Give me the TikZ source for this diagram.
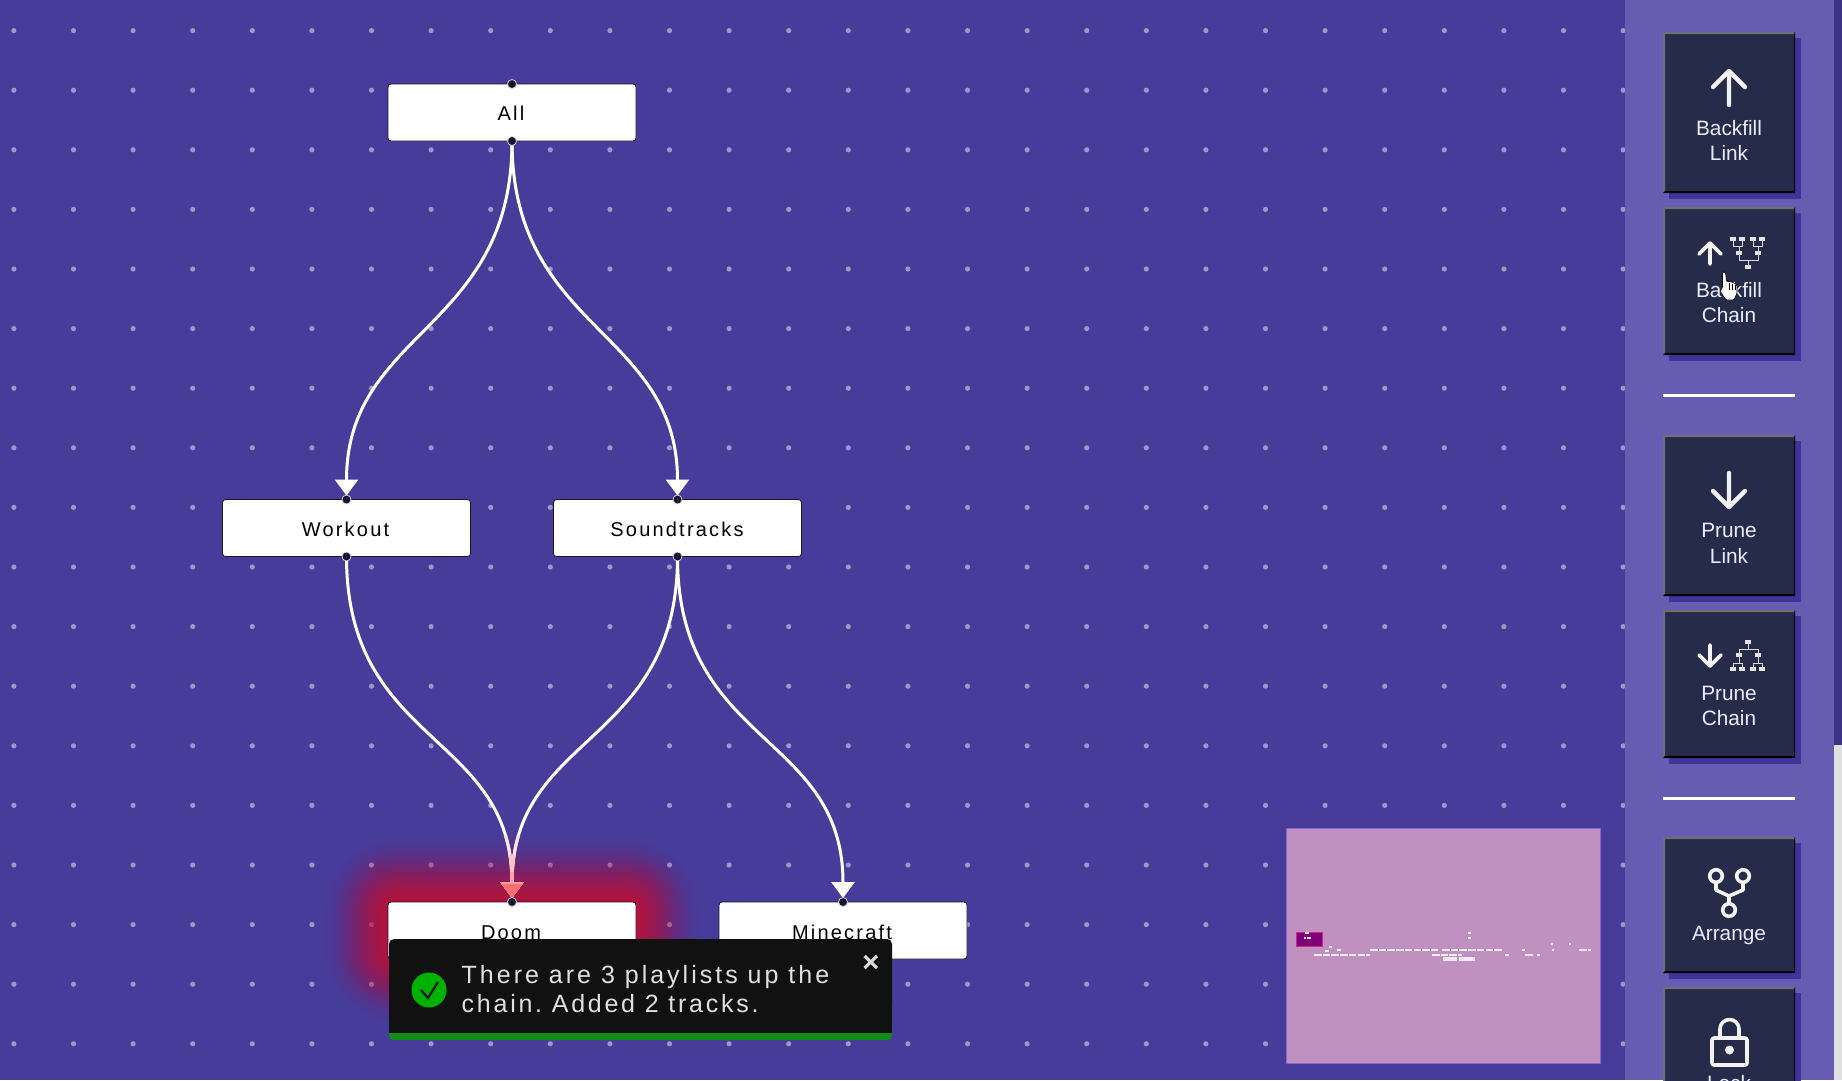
\documentclass[tikz,border=0pt]{standalone}
\usepackage{fontspec}
\usetikzlibrary{arrows.meta}
\setmainfont{Liberation Sans}
\newfontfamily\spacedfont[LetterSpace=11]{Liberation Sans}
\newfontfamily\toastfont[LetterSpace=12]{Liberation Sans}
\newfontfamily\toastfontb[LetterSpace=11]{Liberation Sans}
\frenchspacing
\definecolor{bgc}{HTML}{483C9B}
\definecolor{sidec}{HTML}{665DB2}
\definecolor{shadowc}{HTML}{40339A}
\definecolor{btnc}{HTML}{252B48}
\definecolor{dotc}{HTML}{9D98C8}
\definecolor{glowc}{HTML}{D01030}
\definecolor{pinkc}{HTML}{FF6F6F}
\definecolor{handlec}{HTML}{15152E}
\definecolor{miniC}{HTML}{C090C0}
\definecolor{viewc}{HTML}{7F0077}
\definecolor{toastc}{HTML}{111111}
\definecolor{toastg}{HTML}{0F8F17}
\tikzset{
  x=1pt,y=-1pt,
  playnode/.style={draw=handlec,line width=0.8pt,fill=white,rounded corners=3pt,minimum width=248pt,minimum height=57pt,outer sep=0pt,inner sep=0pt},
  nodelabel/.style={anchor=base,inner sep=0pt,text=black,font=\spacedfont\fontsize{20}{24}\selectfont},
  link/.style={draw=white,line width=3pt,shorten >=4pt,-{Triangle[width=23pt,length=16pt,fill=white]}},
  handlept/.style={circle,fill=handlec,draw=white!75!bgc,line width=0.8pt,minimum size=9pt,inner sep=0pt},
  btn/.style={fill=btnc},
  btnlabel/.style={anchor=base,inner sep=0pt,text=white!92!blue,font=\fontsize{20.8}{25}\selectfont},
  icon/.style={draw=white!95!black,line width=4.4pt,line cap=round,line join=round},
  smallicon/.style={icon,line width=3.6pt},
  treeline/.style={draw=white!85!black,line width=1pt},
  treebox/.style={fill=white!90!black},
  minibar/.style={draw=white!85!miniC,line width=1.8pt,dash pattern=on 7.5pt off 1.2pt},
}
\newcommand{\sidebutton}[2]{%
  \fill[shadowc] (1669,#1+6) rectangle (1801,#2+6);
  \fill[btn] (1663,#1) rectangle (1795,#2);
  \fill[gray!80!btnc] (1663,#2) -- (1663,#1) -- (1795,#1) -- (1794,#1+2) -- (1665,#1+2) -- (1665,#2-2) -- cycle;
  \fill[black] (1663,#2) -- (1795,#2) -- (1795,#1) -- (1794,#1+2) -- (1794,#2-2) -- (1665,#2-2) -- cycle;
}
\newcommand{\treerow}[2]{\fill[treebox] (#1-3,#2-2) rectangle (#1+3,#2+2);}
\newcommand{\minib}[3]{\draw[minibar] (#1,#3) -- (#2,#3);}
\begin{document}
\begin{tikzpicture}
\clip (0,0) rectangle (1842,1080);
\fill[bgc] (0,0) rectangle (1842,1080);
% dot grid
\foreach \i in {-6,...,21} \foreach \j in {-14,...,3}
  \fill[dotc] ({371.5+59.6*\i},{865+59.6*\j}) circle (2.6);
% node positions
\path (512,112.5) node[playnode,draw=none,fill=none] (all) {};
\path (346.5,528) node[playnode,draw=none,fill=none] (workout) {};
\path (677.5,528) node[playnode,draw=none,fill=none] (soundtracks) {};
\path (512,930.5) node[playnode,draw=none,fill=none] (doom) {};
\path (843,930.5) node[playnode,draw=none,fill=none] (minecraft) {};
% glow
\foreach \r in {64,62,...,2}{
  \pgfmathsetmacro{\op}{0.004+0.10*(1-\r/64)}
  \pgfmathsetmacro{\cr}{\r+10}
  \fill[glowc,opacity=\op,rounded corners=\cr pt] (388-\r,901-\r) rectangle (636+\r,960+\r);
}
% links
\draw[link] (all.south) .. controls +(0,190) and +(0,-170) .. (workout.north);
\draw[link] (all.south) .. controls +(0,190) and +(0,-170) .. (soundtracks.north);
\draw[link] (workout.south) .. controls +(0,190) and +(0,-170) .. (doom.north);
\draw[link] (soundtracks.south) .. controls +(0,190) and +(0,-170) .. (doom.north);
\draw[link] (soundtracks.south) .. controls +(0,190) and +(0,-170) .. (minecraft.north);
% links tinted by the glow
\foreach \ys/\tint in {835/80,855/60,872/35,884/0}{
\begin{scope}
\clip (380,\ys) rectangle (640,902);
\draw[link,draw=white!\tint!pinkc,-{Triangle[width=23pt,length=16pt,fill=white!\tint!pinkc]}] (workout.south) .. controls +(0,190) and +(0,-170) .. (doom.north);
\draw[link,draw=white!\tint!pinkc,-{Triangle[width=23pt,length=16pt,fill=white!\tint!pinkc]}] (soundtracks.south) .. controls +(0,190) and +(0,-170) .. (doom.north);
\end{scope}}
% node boxes
\node[playnode] at (all) {};
\node[playnode] at (workout) {};
\node[playnode] at (soundtracks) {};
\node[playnode] at (doom) {};
\node[playnode] at (minecraft) {};
\node[nodelabel] (lall) at (511,120) {All};
\node[nodelabel] (lworkout) at (345.5,536) {Workout};
\node[nodelabel] (lsound) at (677,536) {Soundtracks};
\node[nodelabel] (ldoom) at (511,939) {Doom};
\node[nodelabel] (lmine) at (842,939) {Minecraft};
% handles
\node[handlept] (h1) at (all.north) {};
\node[handlept] (h2) at (all.south) {};
\node[handlept] (h3) at (workout.north) {};
\node[handlept] (h4) at (workout.south) {};
\node[handlept] (h5) at (soundtracks.north) {};
\node[handlept] (h6) at (soundtracks.south) {};
\node[handlept] (h7) at (doom.north) {};
\node[handlept] (h8) at (minecraft.north) {};
% toast
\fill[toastg,rounded corners=5pt] (389,1015) rectangle (892,1040);
\fill[toastc,rounded corners=5pt] (389,939) rectangle (892,1010);
\fill[toastc] (389,960) rectangle (892,1033);
\fill[green!70!black] (429,990) circle (17.5);
\draw[toastc,line width=2.2pt] (421,990) -- (428,998) -- (438,982);
\node[anchor=base west,inner sep=0pt,text=white!88!black,font=\toastfont\fontsize{25}{29}\selectfont] (t1) at (461.5,983) {There are 3 playlists up the};
\node[anchor=base west,inner sep=0pt,text=white!88!black,font=\toastfontb\fontsize{25}{29}\selectfont] (t2) at (461.5,1012) {chain. Added 2 tracks.};
\draw[white!85!black,line width=3.2pt] (864.5,956) -- (877,968) (877,956) -- (864.5,968);
% minimap
\fill[miniC] (1286,828) rectangle (1600.5,1063);
\draw[miniC!70!blue,line width=0.8pt] (1286,828) rectangle (1600.5,1063);
\fill[viewc] (1296,932) rectangle (1322,946);
\draw[magenta!60!viewc,line width=0.6pt] (1296,932) rectangle (1322,946);
\minib{1305}{1309}{933}\minib{1304}{1306}{938}\minib{1307}{1311}{938}
\minib{1468}{1471}{933}\minib{1468}{1471}{938}
\minib{1329}{1332}{947}\minib{1325}{1329}{951}
\minib{1337}{1341}{950}\minib{1370}{1438}{950}\minib{1442}{1502}{950}\minib{1522}{1525}{950}\minib{1552}{1554}{950}\minib{1579}{1591}{950}
\minib{1551}{1553}{944}\minib{1569}{1571}{944}
\minib{1314}{1370}{955}\minib{1432}{1462}{955}\minib{1505}{1509}{955}\minib{1525}{1533}{955}\minib{1537}{1540}{955}
\fill[white!80!miniC] (1443,957) rectangle (1457,961);
\fill[white!80!miniC] (1459,957) rectangle (1475,961);
% sidebar
\fill[sidec] (1625,0) rectangle (1834,1080);
\fill[bgc!85!black] (1834,0) rectangle (1842,745);
\fill[white!88!black] (1834,745) rectangle (1842,1080);
\fill[white] (1663,394) rectangle (1795,396.5);
\fill[white] (1663,797) rectangle (1795,799.5);
\sidebutton{32}{193}
\sidebutton{207}{355}
\sidebutton{435}{596}
\sidebutton{610}{758}
\sidebutton{837}{973}
\sidebutton{987}{1120}
% backfill link
\draw[icon] (1729,105) -- (1729,71) (1713,87) -- (1729,71) -- (1745,87);
\node[btnlabel] (b1) at (1729,135) {Backfill};
\node[btnlabel] (b1b) at (1729,160) {Link};
% backfill chain
\draw[smallicon] (1710,264) -- (1710,243) (1699,254) -- (1710,243) -- (1721,254);
\foreach \x in {1733,1742,1753,1762} \treerow{\x}{239}
\foreach \x in {1739,1758} \treerow{\x}{253}
\treerow{1748}{267}
\draw[treeline] (1733,239) -- (1733,246) -- (1742,246) -- (1742,239) (1739,246) -- (1739,253) (1753,239) -- (1753,246) -- (1762,246) -- (1762,239) (1758,246) -- (1758,253) (1739,253) -- (1739,260) -- (1758,260) -- (1758,253) (1748,260) -- (1748,267);
\node[btnlabel] (b2) at (1729,297) {Backfill};
\node[btnlabel] (b2b) at (1729,322) {Chain};
% hand cursor
\draw[black,line width=0.6pt,fill=white,rounded corners=1.2pt] (1722.5,272) -- (1725.5,272) -- (1726.5,282) -- (1729,281) -- (1731.5,282) -- (1734,283) -- (1737,285) -- (1737,293) -- (1734,300) -- (1726,300) -- (1720,291) -- (1722.5,288) -- cycle;
\draw[black,line width=0.5pt] (1729,283) -- (1729,290) (1732,284) -- (1732,290) (1735,285) -- (1735,290);
% prune link
\draw[icon] (1729,473) -- (1729,507) (1713,491) -- (1729,507) -- (1745,491);
\node[btnlabel] (b3) at (1729,537) {Prune};
\node[btnlabel] (b3b) at (1729,563) {Link};
% prune chain
\draw[smallicon] (1710,645) -- (1710,666) (1699,655) -- (1710,666) -- (1721,655);
\treerow{1748}{642}
\foreach \x in {1739,1758} \treerow{\x}{655}
\foreach \x in {1733,1742,1753,1762} \treerow{\x}{669}
\draw[treeline] (1748,642) -- (1748,649) (1739,655) -- (1739,649) -- (1758,649) -- (1758,655) (1739,655) -- (1739,663) (1733,669) -- (1733,663) -- (1742,663) -- (1742,669) (1758,655) -- (1758,663) (1753,669) -- (1753,663) -- (1762,663) -- (1762,669);
\node[btnlabel] (b4) at (1729,700) {Prune};
\node[btnlabel] (b4b) at (1729,725) {Chain};
% arrange
\draw[smallicon] (1716,876) circle (6.3) (1743,876) circle (6.3) (1729,910) circle (6.3);
\draw[smallicon] (1716,883) -- (1716,890) -- (1729,896) -- (1729,903) (1743,883) -- (1743,890) -- (1729,896);
\node[btnlabel] (b5) at (1729,940) {Arrange};
% lock
\draw[smallicon,rounded corners=2pt] (1712,1038) rectangle (1747,1065);
\draw[smallicon] (1720,1038) -- (1720,1029) arc[start angle=180,end angle=0,x radius=9.5,y radius=-9.5] -- (1739,1038);
\fill[white!95!black] (1729.5,1050) circle (4.5);
\node[btnlabel] (b6) at (1729,1090) {Lock};
\end{tikzpicture}
\end{document}
